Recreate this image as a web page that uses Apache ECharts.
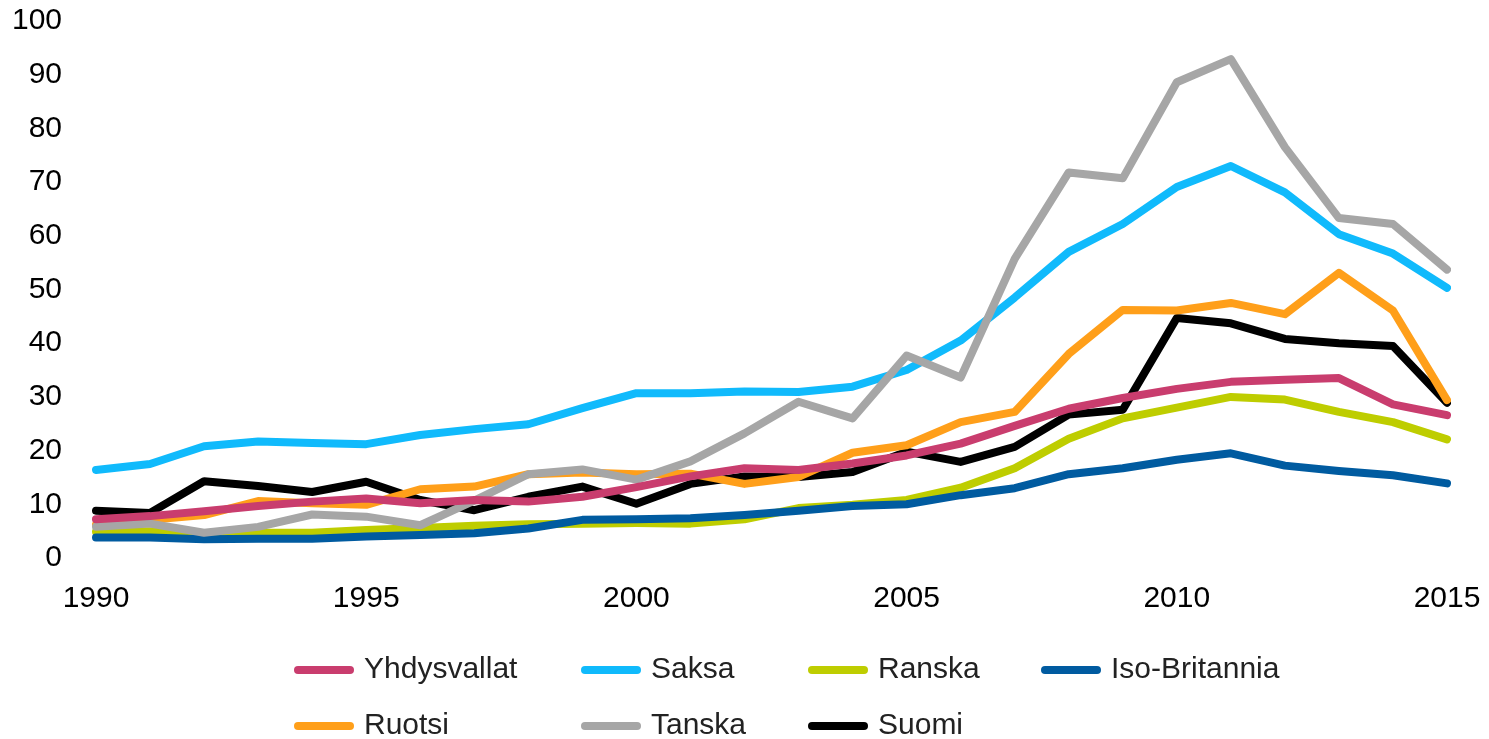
<!DOCTYPE html>
<html>
<head>
<meta charset="utf-8">
<script src="https://cdn.jsdelivr.net/npm/echarts@6/dist/echarts.min.js"></script>
<style>
  html, body { margin: 0; padding: 0; background: #fff; }
  #chart { width: 1489px; height: 739px; }
</style>
</head>
<body>
<div id="chart"></div>
<script>
var years = [];
for (var y = 1990; y <= 2015; y++) years.push(String(y));

var yhdysvallat = [7.2, 7.8, 8.7, 9.7, 10.5, 11.1, 10.2, 10.8, 10.5, 11.4, 13.2, 15.2, 16.7, 16.4, 17.6, 19.1, 21.3, 24.6, 27.8, 29.8, 31.5, 32.8, 33.2, 33.5, 28.6, 26.6];
var saksa = [16.4, 17.5, 20.8, 21.7, 21.4, 21.2, 22.9, 24.0, 24.9, 27.9, 30.7, 30.7, 31.0, 30.9, 31.9, 35.0, 40.5, 48.5, 57.0, 62.2, 69.1, 73.0, 68.1, 60.3, 56.7, 50.3];
var ranska = [4.9, 5.0, 4.5, 4.7, 4.7, 5.2, 5.6, 6.0, 6.3, 6.4, 6.5, 6.4, 7.2, 9.3, 9.9, 10.8, 13.1, 16.7, 22.2, 26.0, 28.0, 30.0, 29.5, 27.2, 25.3, 22.1];
var isoBritannia = [3.8, 3.8, 3.5, 3.6, 3.6, 4.0, 4.3, 4.6, 5.5, 7.1, 7.2, 7.4, 8.0, 8.8, 9.7, 10.0, 11.7, 13.0, 15.6, 16.7, 18.3, 19.5, 17.2, 16.2, 15.4, 13.9];
var ruotsi = [6.2, 7.1, 8.0, 10.6, 10.2, 9.9, 12.8, 13.3, 15.6, 15.9, 15.6, 15.7, 13.8, 15.1, 19.6, 21.0, 25.3, 27.2, 38.0, 46.2, 46.1, 47.5, 45.4, 53.1, 46.1, 29.4];
var tanska = [5.8, 6.4, 4.7, 5.8, 8.1, 7.7, 6.1, 10.7, 15.6, 16.5, 14.6, 18.0, 23.2, 29.1, 26.0, 37.7, 33.6, 55.7, 71.8, 70.7, 88.6, 92.9, 76.5, 63.3, 62.2, 53.7];
var suomi = [8.8, 8.4, 14.3, 13.4, 12.3, 14.2, 10.8, 8.9, 11.4, 13.3, 10.1, 13.8, 15.2, 15.1, 16.0, 19.8, 17.9, 20.7, 26.7, 27.6, 44.7, 43.7, 40.8, 40.0, 39.5, 28.9];

var font = 'Liberation Sans';
var pill = 'path://M4,0 L56,0 A4,4 0 0 1 56,8 L4,8 A4,4 0 0 1 4,0 Z';

function line(name, data, color) {
    return {
        name: name,
        type: 'line',
        data: data,
        showSymbol: false,
        color: color,
        lineStyle: { width: 8, color: color, cap: 'round', join: 'round' }
    };
}

function legendItem(name, left, top) {
    return {
        data: [name],
        left: left,
        top: top,
        padding: 0,
        icon: pill,
        itemWidth: 60,
        itemHeight: 8,
        textStyle: {
            fontFamily: font,
            fontSize: 30,
            color: '#222',
            lineHeight: 34,
            padding: [0, 0, 0, 5]
        }
    };
}

var chart = echarts.init(document.getElementById('chart'));
chart.setOption({
    animation: false,
    backgroundColor: '#fff',
    grid: { left: 96, right: 42, top: 21, bottom: 181, containLabel: false },
    legend: [
        legendItem('Yhdysvallat', 294, 653),
        legendItem('Saksa', 581, 653),
        legendItem('Ranska', 808, 653),
        legendItem('Iso-Britannia', 1041, 653),
        legendItem('Ruotsi', 294, 709),
        legendItem('Tanska', 581, 709),
        legendItem('Suomi', 808, 709)
    ],
    xAxis: {
        type: 'category',
        data: years,
        boundaryGap: false,
        axisLine: { show: false },
        axisTick: { show: false },
        splitLine: { show: false },
        axisLabel: {
            interval: 4,
            margin: 26,
            color: '#000',
            fontFamily: font,
            fontSize: 30
        }
    },
    yAxis: {
        type: 'value',
        min: 0,
        max: 100,
        interval: 10,
        axisLine: { show: false },
        axisTick: { show: false },
        splitLine: { show: false },
        axisLabel: {
            margin: 34,
            color: '#000',
            fontFamily: font,
            fontSize: 30
        }
    },
    series: [
        line('Saksa', saksa, '#10BAFC'),
        line('Ranska', ranska, '#BECD00'),
        line('Iso-Britannia', isoBritannia, '#005BA0'),
        line('Suomi', suomi, '#000000'),
        line('Ruotsi', ruotsi, '#FF9F1A'),
        line('Tanska', tanska, '#A6A6A6'),
        line('Yhdysvallat', yhdysvallat, '#C93D6E')
    ]
});
</script>
</body>
</html>
